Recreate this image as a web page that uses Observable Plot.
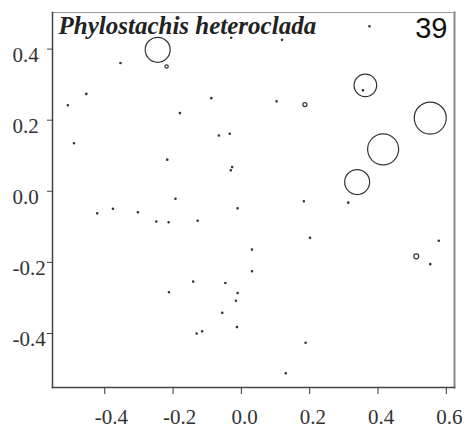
<!DOCTYPE html>
<html>
<head>
<meta charset="utf-8">
<script src="https://cdn.jsdelivr.net/npm/d3@7"></script>
<script src="https://cdn.jsdelivr.net/npm/@observablehq/plot@0.6"></script>
<style>
  html, body { margin: 0; padding: 0; background: #fff; }
</style>
</head>
<body>
<div id="chart"></div>
<script>
// Site scores (axis 1, axis 2) and abundance of Phylostachis heteroclada
const siteX = [
  -0.245, -0.219, 0.363, 0.553, 0.415, 0.339, 0.186, 0.512,
  -0.354, -0.454, -0.508, -0.088, -0.180, -0.066, -0.034, -0.490,
  -0.030, 0.375, 0.119, 0.103, 0.356, -0.217, -0.027, -0.031,
  -0.193, -0.011, -0.422, -0.376, -0.303, -0.249, -0.213, -0.128,
  0.031, 0.031, -0.141, -0.047, 0.183, 0.313, 0.201, 0.578,
  0.553, -0.212, -0.011, -0.016, -0.056, -0.131, -0.115, -0.013,
  0.188, 0.130
];
const siteY = [
  0.398, 0.351, 0.298, 0.206, 0.118, 0.026, 0.244, -0.183,
  0.361, 0.274, 0.242, 0.262, 0.220, 0.157, 0.162, 0.135,
  0.432, 0.464, 0.426, 0.253, 0.284, 0.089, 0.068, 0.059,
  -0.021, -0.048, -0.062, -0.049, -0.059, -0.085, -0.087, -0.083,
  -0.164, -0.225, -0.254, -0.258, -0.028, -0.032, -0.131, -0.139,
  -0.205, -0.284, -0.286, -0.308, -0.342, -0.400, -0.394, -0.382,
  -0.426, -0.512
];
const abundance = [
  61, 1.1, 50, 100, 94, 61, 1.6, 2.4,
  0.2, 0.2, 0.2, 0.2, 0.2, 0.2, 0.2, 0.2,
  0.2, 0.2, 0.2, 0.2, 0.2, 0.2, 0.2, 0.2,
  0.2, 0.2, 0.2, 0.2, 0.2, 0.2, 0.2, 0.2,
  0.2, 0.2, 0.2, 0.2, 0.2, 0.2, 0.2, 0.2,
  0.2, 0.2, 0.2, 0.2, 0.2, 0.2, 0.2, 0.2,
  0.2, 0.2
];
const xTicks = [-0.4, -0.2, 0.0, 0.2, 0.4, 0.6];
const yTicks = [-0.4, -0.2, 0.0, 0.2, 0.4];
const speciesName = "Phylostachis heteroclada";
const panelNumber = "39";

const sites = siteX.map((x, i) => ({x, y: siteY[i], a: abundance[i]}));
const fmt = d => d.toFixed(1);
const serif = "Liberation Serif";

const chart = Plot.plot({
  width: 470,
  height: 429,
  marginLeft: 52,
  marginRight: 16,
  marginTop: 12,
  marginBottom: 42,
  style: {fontFamily: serif, background: "#fff"},
  x: {domain: [-0.553, 0.624], label: null},
  y: {domain: [-0.552, 0.503], label: null},
  r: {domain: [0, 100], range: [0, 16]},
  marks: [
    Plot.axisX({ticks: xTicks, tickSize: 7, text: null, label: null, stroke: "#333"}),
    Plot.axisY({ticks: yTicks, tickSize: 5, text: null, label: null, stroke: "#444"}),
    Plot.text(xTicks, {x: d => d, text: fmt, frameAnchor: "bottom", lineAnchor: "top",
      textAnchor: "start", dx: -10, dy: 22, fontSize: 21, fontFamily: serif, fill: "#333"}),
    Plot.text(yTicks, {y: d => d, text: fmt, frameAnchor: "left", lineAnchor: "middle",
      textAnchor: "start", dx: -40, dy: 6, fontSize: 21, fontFamily: serif, fill: "#333"}),
    Plot.frame({anchor: "top", stroke: "#999", strokeWidth: 1.2}),
    Plot.frame({anchor: "right", stroke: "#888", strokeWidth: 2}),
    Plot.frame({anchor: "left", stroke: "#444", strokeWidth: 1.5}),
    Plot.frame({anchor: "bottom", stroke: "#444", strokeWidth: 1.5}),
    Plot.dot(sites, {x: "x", y: "y", r: "a", stroke: "#333", strokeWidth: 1.2, fill: "none"}),
    Plot.text([speciesName], {frameAnchor: "top-left", dx: 6, dy: 4, lineAnchor: "top", textAnchor: "start",
      fontSize: 25, fontWeight: "bold", fontStyle: "italic", fill: "#222", fontFamily: serif}),
    Plot.text([panelNumber], {frameAnchor: "top-right", dx: -7, dy: 5, lineAnchor: "top", textAnchor: "end",
      fontSize: 29, fill: "#111", fontFamily: "Liberation Sans"})
  ]
});
document.getElementById("chart").appendChild(chart);
</script>
</body>
</html>
